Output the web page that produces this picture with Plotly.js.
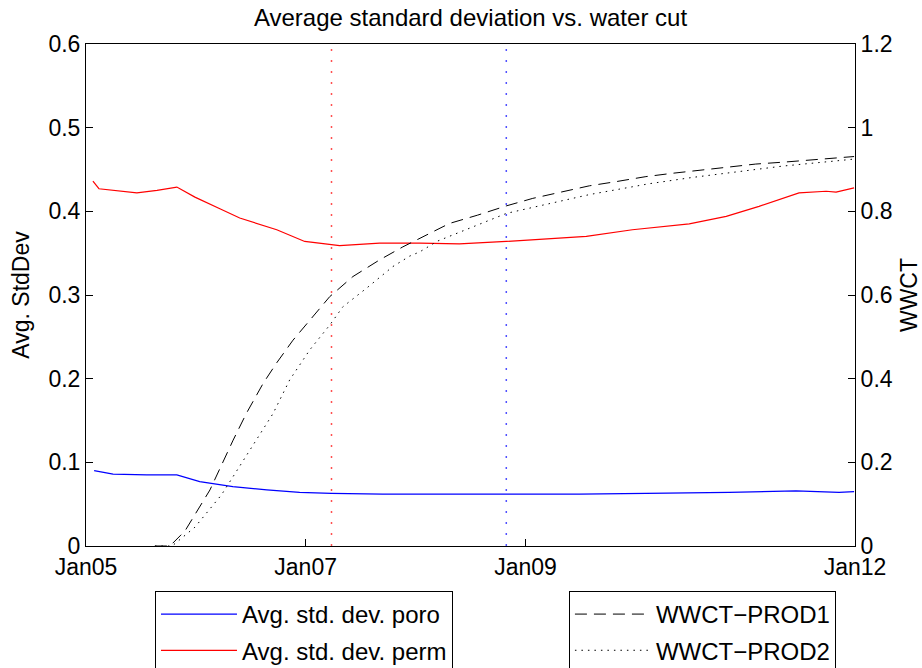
<!DOCTYPE html>
<html><head><meta charset="utf-8">
<script src="https://cdn.plot.ly/plotly-3.0.1.min.js"></script>
<style>html,body{margin:0;padding:0;background:#fff}#chart{width:922px;height:668px}</style>
</head><body><div id="chart"></div>
<script>
// x-axis ticks
const xTickVals = ['2005-01-01','2007-01-01','2009-01-01','2012-01-01'];
const xTickText = ['Jan05','Jan07','Jan09','Jan12'];

// Avg. std. dev. poro (left axis)
const poroDates = ['2005-01-28','2005-04-01','2005-07-22','2005-10-30','2006-01-14','2006-05-04','2006-08-25','2006-12-12','2007-03-28','2007-09-14','2008-04-23','2009-06-29','2010-02-06','2010-11-09','2011-06-19','2011-10-07','2011-11-09','2011-12-29'];
const poroVals  = [0.090,0.086,0.085,0.085,0.077,0.071,0.067,0.064,0.063,0.062,0.062,0.062,0.063,0.064,0.066,0.065,0.064,0.065];

// Avg. std. dev. perm (left axis)
const permDates = ['2005-01-24','2005-02-13','2005-06-19','2005-08-25','2005-10-30','2005-12-29','2006-03-22','2006-05-27','2006-09-27','2006-12-29','2007-04-24','2007-09-04','2008-01-15','2008-05-26','2008-10-29','2009-07-22','2009-12-22','2010-06-29','2010-10-30','2011-02-16','2011-06-29','2011-09-27','2011-10-30','2011-12-29'];
const permVals  = [0.436,0.427,0.422,0.425,0.429,0.417,0.403,0.392,0.378,0.364,0.359,0.362,0.362,0.361,0.364,0.370,0.378,0.385,0.394,0.406,0.422,0.424,0.423,0.428];

// WWCT-PROD1 (right axis)
const prod1Dates = ['2005-08-18','2005-10-07','2005-11-26','2006-02-17','2006-05-05','2006-06-18','2006-08-13','2006-09-26','2006-11-20','2007-01-15','2007-03-22','2007-06-07','2007-09-04','2007-11-20','2008-02-06','2008-04-23','2008-07-26','2008-10-29','2009-01-25','2009-05-04','2009-08-01','2009-10-29','2010-02-05','2010-05-05','2010-08-12','2010-11-09','2011-02-05','2011-05-16','2011-08-24','2011-12-01','2011-12-29'];
const prod1Vals  = [0,0,0.036,0.134,0.253,0.317,0.389,0.437,0.492,0.540,0.596,0.644,0.684,0.715,0.743,0.771,0.791,0.813,0.831,0.847,0.861,0.871,0.883,0.891,0.899,0.907,0.913,0.918,0.923,0.929,0.931];

// WWCT-PROD2 (right axis)
const prod2Dates = ['2005-08-18','2005-10-14','2005-12-29','2006-03-27','2006-05-05','2006-07-22','2006-09-15','2006-11-09','2007-01-15','2007-03-22','2007-05-05','2007-07-22','2007-10-18','2007-12-13','2008-01-15','2008-03-15','2008-06-29','2008-10-29','2009-02-16','2009-08-01','2010-02-16','2010-07-09','2010-11-19','2011-05-04','2011-11-19','2011-12-29'];
const prod2Vals  = [0,0,0.045,0.122,0.166,0.253,0.317,0.397,0.469,0.528,0.572,0.616,0.668,0.693,0.703,0.729,0.759,0.795,0.813,0.840,0.866,0.881,0.893,0.908,0.922,0.925];

// vertical marker dates
const markerDates = ['2007-03-28','2008-10-29'];
const leftRange = [0, 0.6];

const FONT = 'Liberation Sans, Arial, Helvetica, sans-serif';

const traces = [
  {x: poroDates, y: poroVals, type: 'scatter', mode: 'lines', name: 'Avg. std. dev. poro',
   line: {color: '#0000ff', width: 1.2}, legend: 'legend', legendgroup: 'a'},
  {x: permDates, y: permVals, type: 'scatter', mode: 'lines', name: 'Avg. std. dev. perm',
   line: {color: '#ff0000', width: 1.2}, legend: 'legend', legendgroup: 'b'},
  {x: prod1Dates, y: prod1Vals, type: 'scatter', mode: 'lines', name: 'WWCT\u2212PROD1', yaxis: 'y2',
   line: {color: '#000000', width: 1, dash: '12px,7px'}, legend: 'legend2', legendgroup: 'c'},
  {x: prod2Dates, y: prod2Vals, type: 'scatter', mode: 'lines', name: 'WWCT\u2212PROD2', yaxis: 'y2',
   line: {color: '#000000', width: 1, dash: '1.5px,5px'}, legend: 'legend2', legendgroup: 'd'},
  {x: [markerDates[0], markerDates[0]], y: leftRange, type: 'scatter', mode: 'lines', showlegend: false,
   hoverinfo: 'skip', line: {color: '#ff5050', width: 1.5, dash: '2px,9px'}},
  {x: [markerDates[1], markerDates[1]], y: leftRange, type: 'scatter', mode: 'lines', showlegend: false,
   hoverinfo: 'skip', line: {color: '#5050ff', width: 1.5, dash: '2px,9px'}}
];

const legendCommon = {
  xanchor: 'left', yanchor: 'top', y: -0.0896,
  bordercolor: '#000', borderwidth: 1, bgcolor: '#fff',
  font: {family: FONT, size: 24, color: '#000'},
  itemwidth: 76, traceorder: 'grouped', tracegroupgap: 2
};

const layout = {
  width: 922, height: 668,
  margin: {l: 86, r: 67, t: 44, b: 122, autoexpand: false},
  paper_bgcolor: '#fff', plot_bgcolor: '#fff',
  font: {family: FONT, size: 23, color: '#000'},
  showlegend: true,
  title: {text: 'Average standard deviation vs. water cut', font: {family: FONT, size: 24, color: '#000'},
          x: 0.5, xref: 'paper', xanchor: 'center', y: 0.973, yref: 'container', yanchor: 'middle'},
  xaxis: {type: 'date', range: ['2005-01-01', '2012-01-01'], tickvals: xTickVals, ticktext: xTickText,
          ticks: 'inside', ticklen: 7, tickcolor: '#000', showline: true, linecolor: '#000', linewidth: 1,
          mirror: true, showgrid: false, zeroline: false, tickfont: {family: FONT, size: 23, color: '#000'}},
  yaxis: {range: leftRange, dtick: 0.1, tick0: 0, ticks: 'inside', ticklen: 7, tickcolor: '#000',
          showline: true, linecolor: '#000', linewidth: 1, showgrid: false, zeroline: false,
          tickfont: {family: FONT, size: 23, color: '#000'},
          title: {text: 'Avg. StdDev', font: {family: FONT, size: 23, color: '#000'}, standoff: 12}},
  yaxis2: {range: [0, 1.2], dtick: 0.2, tick0: 0, overlaying: 'y', side: 'right', ticks: 'inside', ticklen: 7,
           tickcolor: '#000', showline: true, linecolor: '#000', linewidth: 1, showgrid: false, zeroline: false,
           tickfont: {family: FONT, size: 23, color: '#000'},
           title: {text: 'WWCT', font: {family: FONT, size: 23, color: '#000'}, standoff: 15}},
  legend: Object.assign({}, legendCommon, {x: 0.0897}),
  legend2: Object.assign({}, legendCommon, {x: 0.628})
};

Plotly.newPlot('chart', traces, layout, {displayModeBar: false, staticPlot: true});
</script>
</body></html>
